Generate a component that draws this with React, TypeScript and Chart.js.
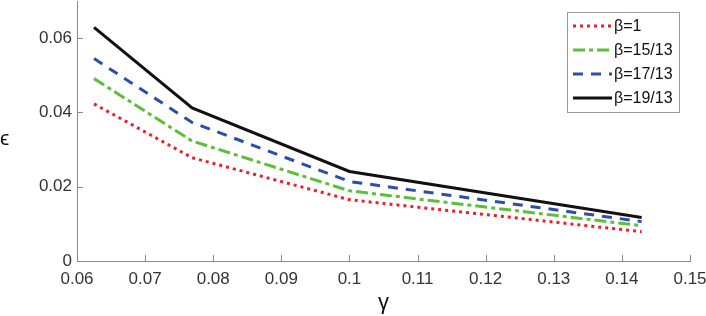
import React, { useEffect, useRef } from "react";
import { Chart, registerables } from "chart.js";

Chart.register(...registerables);

const gammaValues = [0.0625, 0.0769, 0.1, 0.1429];
const beta1 = [0.0423, 0.0278, 0.0165, 0.0079];
const beta15_13 = [0.0491, 0.0323, 0.0189, 0.0095];
const beta17_13 = [0.0545, 0.0373, 0.0214, 0.0106];
const beta19_13 = [0.0629, 0.0412, 0.0241, 0.0117];
const seriesLabels = ["β=1", "β=15/13", "β=17/13", "β=19/13"];
const xTicks = [0.06, 0.07, 0.08, 0.09, 0.1, 0.11, 0.12, 0.13, 0.14, 0.15];
const yTicks = [0, 0.02, 0.04, 0.06];

const FONT = "'Liberation Sans', Arial, Helvetica, sans-serif";
const AXIS_COLOR = "#8a8a8a";
const TEXT_COLOR = "#333333";

const styles = [
  { color: "#e8202a", dash: [3, 4], width: 3 },
  { color: "#5cbf3a", dash: [12, 4, 4, 4], width: 3 },
  { color: "#2a4fa8", dash: [10, 8], width: 3 },
  { color: "#111111", dash: [] as number[], width: 3 },
];

const inwardTicks = {
  id: "inwardTicks",
  afterDraw(chart: any) {
    const ctx = chart.ctx;
    const xs = chart.scales.x;
    const ys = chart.scales.y;
    const area = chart.chartArea;
    ctx.save();
    ctx.strokeStyle = AXIS_COLOR;
    ctx.lineWidth = 1;
    ctx.setLineDash([]);
    xTicks.forEach((v) => {
      const px = Math.round(xs.getPixelForValue(v)) + 0.5;
      ctx.beginPath();
      ctx.moveTo(px, area.bottom);
      ctx.lineTo(px, area.bottom - 6);
      ctx.stroke();
    });
    yTicks.forEach((v) => {
      const py = Math.round(ys.getPixelForValue(v)) + 0.5;
      ctx.beginPath();
      ctx.moveTo(area.left, py);
      ctx.lineTo(area.left + 6, py);
      ctx.stroke();
    });
    ctx.fillStyle = "#111";
    ctx.font = `21px ${FONT}`;
    ctx.textAlign = "left";
    ctx.textBaseline = "middle";
    ctx.fillText("ϵ", 0, 139);
    ctx.restore();
  },
};

const boxLegend = {
  id: "boxLegend",
  afterDraw(chart: any) {
    const ctx = chart.ctx;
    const bx = 567, by = 12, bw = 112, bh = 100;
    ctx.save();
    ctx.fillStyle = "#ffffff";
    ctx.fillRect(bx, by, bw, bh);
    ctx.strokeStyle = "#999999";
    ctx.lineWidth = 1;
    ctx.strokeRect(bx + 0.5, by + 0.5, bw, bh);
    const rows = [26, 50, 74, 98];
    chart.data.datasets.forEach((ds: any, i: number) => {
      const y = rows[i];
      ctx.strokeStyle = ds.borderColor;
      ctx.lineWidth = ds.borderWidth;
      ctx.setLineDash(ds.borderDash || []);
      ctx.beginPath();
      ctx.moveTo(573, y);
      ctx.lineTo(612, y);
      ctx.stroke();
      ctx.setLineDash([]);
      ctx.fillStyle = "#111";
      ctx.font = `16px ${FONT}`;
      ctx.textAlign = "left";
      ctx.textBaseline = "middle";
      ctx.fillText(ds.label, 614, y + 1);
    });
    ctx.restore();
  },
};

export default function App() {
  const ref = useRef<HTMLCanvasElement | null>(null);

  useEffect(() => {
    document.body.style.margin = "0";
    const canvas = ref.current;
    if (!canvas) return;
    const seriesData = [beta1, beta15_13, beta17_13, beta19_13];
    const chart = new Chart(canvas, {
      type: "line",
      data: {
        datasets: seriesData.map((vals, i) => ({
          label: seriesLabels[i],
          data: gammaValues.map((g, j) => ({ x: g, y: vals[j] })),
          borderColor: styles[i].color,
          backgroundColor: styles[i].color,
          borderWidth: styles[i].width,
          borderDash: styles[i].dash,
          pointRadius: 0,
          tension: 0,
          fill: false,
        })),
      },
      options: {
        responsive: false,
        animation: false,
        layout: { padding: { top: 1, right: 16, left: 0, bottom: 0 } },
        plugins: {
          legend: { display: false },
          tooltip: { enabled: false },
        },
        scales: {
          x: {
            type: "linear",
            min: 0.06,
            max: 0.15,
            afterBuildTicks: (s: any) => {
              s.ticks = xTicks.map((v) => ({ value: v }));
            },
            afterFit: (s: any) => {
              s.height = 55;
              s.paddingLeft = 0;
              s.paddingRight = 0;
            },
            grid: { display: false, drawTicks: false },
            border: { display: true, color: AXIS_COLOR, width: 1 },
            ticks: {
              padding: 8,
              color: TEXT_COLOR,
              font: { family: FONT, size: 17 },
              maxRotation: 0,
              autoSkip: false,
              callback: (v: any) => String(Number(Number(v).toFixed(2))),
            },
            title: {
              display: true,
              text: "γ",
              color: "#111",
              font: { family: FONT, size: 22 },
              padding: { top: 4, bottom: 0 },
            },
          },
          y: {
            type: "linear",
            min: 0,
            max: 0.07,
            afterBuildTicks: (s: any) => {
              s.ticks = yTicks.map((v) => ({ value: v }));
            },
            afterFit: (s: any) => {
              s.width = 77;
              s.paddingTop = 0;
              s.paddingBottom = 0;
            },
            grid: { display: false, drawTicks: false },
            border: { display: true, color: AXIS_COLOR, width: 1 },
            ticks: {
              padding: 5,
              color: TEXT_COLOR,
              font: { family: FONT, size: 17 },
              autoSkip: false,
              callback: (v: any) => String(Number(Number(v).toFixed(2))),
            },
          },
        },
      },
      plugins: [inwardTicks, boxLegend],
    } as any);
    return () => chart.destroy();
  }, []);

  return (
    <div style={{ position: "absolute", left: 0, top: 0, width: 706, height: 316, background: "#fff" }}>
      <canvas ref={ref} width={706} height={316} style={{ width: 706, height: 316, display: "block" }} />
    </div>
  );
}
